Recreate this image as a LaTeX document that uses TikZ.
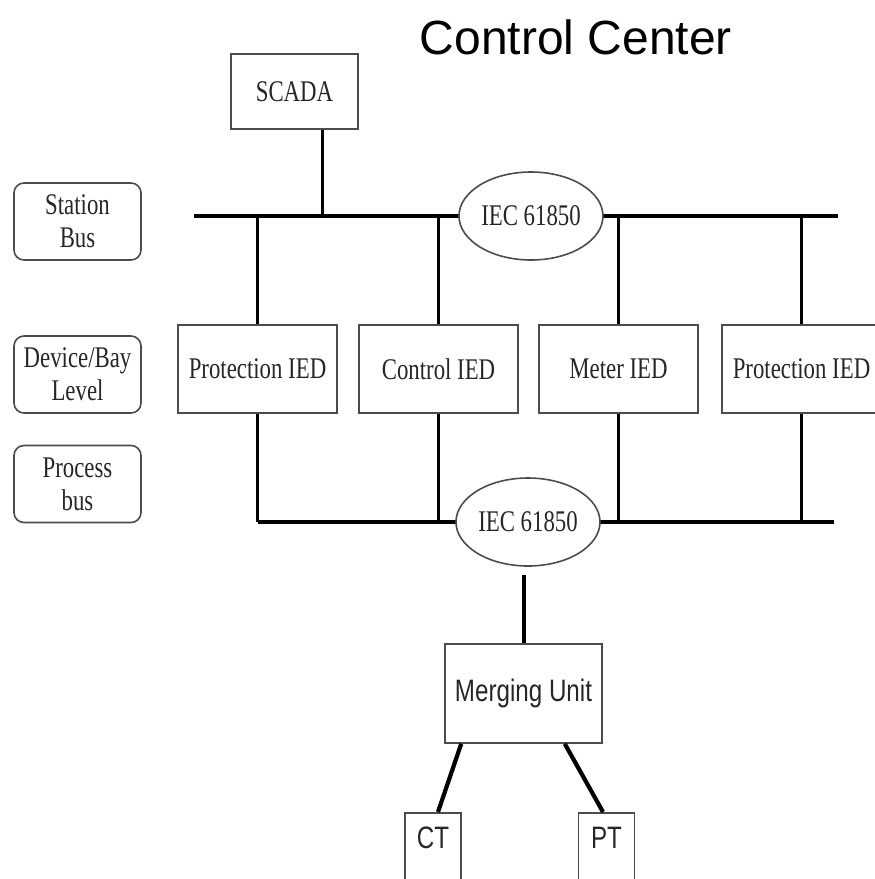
\documentclass[tikz,border=0pt]{standalone}
\usepackage{fontspec}
\setmainfont{Liberation Serif}
\newfontfamily\serifc[FakeStretch=0.76]{Liberation Serif}
\newfontfamily\sansc[FakeStretch=0.78]{Liberation Sans}
\newfontfamily\sansf{Liberation Sans}
\usetikzlibrary{shapes.geometric,calc}
\tikzset{
  boxline/.style={draw=black!70, line width=1.6pt},
  serifbox/.style={boxline, rectangle, inner sep=0pt, text=black!85,
    font=\serifc\fontsize{30}{33}\selectfont, align=center},
  levelbox/.style={serifbox, rounded corners=10pt, minimum width=127pt, minimum height=77pt},
  iedbox/.style={serifbox, minimum width=159pt, minimum height=88pt},
  busellipse/.style={boxline, ellipse, fill=white, inner sep=0pt, text=black!85,
    minimum width=144pt, minimum height=88pt, font=\serifc\fontsize{30}{33}\selectfont},
  sansbox/.style={boxline, rectangle, inner sep=0pt, text=black!85,
    font=\sansc\fontsize{31}{34}\selectfont},
  busline/.style={line width=4.5pt, black},
  tapline/.style={line width=3pt, black},
  muline/.style={line width=4.2pt, black},
}
\begin{document}
\begin{tikzpicture}[x=1pt,y=-1pt]
\useasboundingbox (0,0) rectangle (875,879);
\clip (0,0) rectangle (875,879);

% title
\node[font=\sansf\fontsize{48}{52}\selectfont, inner sep=0pt] (title) at (576,37) {Control Center};

% level labels
\node[levelbox] (lstation) at (77.5,221.5) {Station\\Bus};
\node[levelbox] (ldevice) at (77.5,374.5) {Device/Bay\\Level};
\node[levelbox] (lprocess) at (77.5,484) {Process\\bus};

% SCADA
\node[serifbox, minimum width=127pt, minimum height=75pt] (scada) at (294.5,91.5) {SCADA};

% bus coordinates
\coordinate (sbL) at (194,216);
\coordinate (sbR) at (838,216);
\coordinate (pbR) at (834,522);
\coordinate (scadatap) at ($(scada.south)+(27.5,0)$);

% IEDs
\node[iedbox] (ied1) at (257.5,369) {Protection IED};
\node[iedbox] (ied2) at (438.5,369) {Control IED};
\node[iedbox] (ied3) at (618.5,369) {Meter IED};
\node[iedbox] (ied4) at (801.5,369) {Protection IED};

% station bus
\draw[busline] (sbL) -- (sbR);
\draw[tapline] (scadatap) -- (scadatap |- sbL);
\foreach \n in {ied1,ied2,ied3,ied4}{
  \draw[tapline] (\n.north) -- (\n.north |- sbL);
}
\node[busellipse] (e1) at (531,216) {IEC 61850};

% process bus
\coordinate (pbL) at (ied1.south |- pbR);
\draw[busline] (pbL) -- (pbR);
\foreach \n in {ied1,ied2,ied3,ied4}{
  \draw[tapline] (\n.south) -- (\n.south |- pbR);
}
\node[busellipse] (e2) at (528,522) {IEC 61850};

% merging unit
\node[sansbox, minimum width=157pt, minimum height=99pt] (mu) at (523.5,693.5) {Merging Unit};
\coordinate (mutop) at ($(mu.north |- e2.south)+(0,8)$);
\draw[line width=4pt] (mutop) -- (mu.north);

% CT / PT
\node[sansbox, anchor=north, minimum width=56pt, text height=36pt, text depth=52pt] (ct) at (433,812) {CT};
\node[sansbox, anchor=north, minimum width=56pt, text height=36pt, text depth=52pt] (pt) at (606.5,812) {PT};
\draw[muline] ($(mu.south west)+(17,0)$) -- ($(ct.north)+(5,0)$);
\draw[muline] ($(mu.south east)+(-38,0)$) -- ($(pt.north)+(-3.5,0)$);
\end{tikzpicture}
\end{document}
